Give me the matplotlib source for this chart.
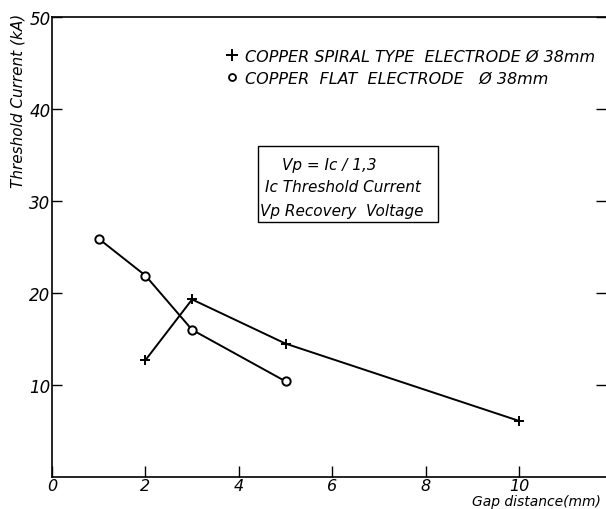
import matplotlib
matplotlib.use('Agg')
import matplotlib.pyplot as plt
from matplotlib.lines import Line2D
from matplotlib.patches import Rectangle

# data
spiral_gap = [2, 3, 5, 10]
spiral_ic = [12.7, 19.3, 14.5, 6.1]
flat_gap = [1, 2, 3, 5]
flat_ic = [25.9, 21.9, 16.0, 10.4]

xticks = [0, 2, 4, 6, 8, 10]
yticks = [10, 20, 30, 40, 50]

spiral_label = 'COPPER SPIRAL TYPE  ELECTRODE Ø 38mm'
flat_label = 'COPPER  FLAT  ELECTRODE   Ø 38mm'
box_lines = ['Vp = Ic / 1,3', 'Ic Threshold Current', 'Vp Recovery  Voltage']

plt.rcParams['font.family'] = 'DejaVu Sans'
plt.rcParams['font.style'] = 'italic'

fig = plt.figure(figsize=(6.06, 5.10), dpi=100)
ax = fig.add_axes([52 / 606, 32 / 510, 554 / 606, 460 / 510])

ax.plot(spiral_gap, spiral_ic, color='black', lw=1.4, marker='+', ms=7, mew=1.4)
ax.plot(flat_gap, flat_ic, color='black', lw=1.4, marker='o', ms=6, mew=1.4,
        mfc='white', mec='black')

ax.set_xlim(0, 554 / 46.7)
ax.set_ylim(0, 50)
ax.set_xticks(xticks)
ax.set_yticks(yticks)
ax.set_xticklabels([str(v) for v in xticks], fontsize=11.5)
ax.set_yticklabels([str(v) for v in yticks], fontsize=12)
ax.tick_params(axis='x', direction='in', length=8, width=1, pad=1)
ax.tick_params(axis='y', direction='in', length=7, width=1, pad=1, right=True)
ax.spines['right'].set_visible(False)
for s in ['left', 'bottom', 'top']:
    ax.spines[s].set_linewidth(1.2)

ax.set_ylabel('Threshold Current (kA)', fontsize=11)
ax.yaxis.set_label_coords(-0.048, 0.82)
ax.set_xlabel('Gap distance(mm)', fontsize=10, ha='right')
ax.xaxis.set_label_coords(0.99, -0.036)

handles = [Line2D([], [], color='black', ls='none', marker='+', ms=8, mew=1.4),
           Line2D([], [], color='black', ls='none', marker='o', ms=5, mew=1.3, mfc='white')]
ax.legend(handles, [spiral_label, flat_label], loc='upper left',
          bbox_to_anchor=(0.305, 0.945), frameon=False, fontsize=11.5,
          handlelength=0.6, handletextpad=0.5, labelspacing=0.45, borderaxespad=0)

ax.add_patch(Rectangle((4.41, 27.7), 3.86, 8.3, fill=False, ec='black', lw=1.0))
ax.text(4.93, 34.0, box_lines[0], fontsize=11, va='center')
ax.text(4.56, 31.6, box_lines[1], fontsize=11, va='center')
ax.text(4.45, 29.0, box_lines[2], fontsize=11, va='center')

fig.savefig('out.png', dpi=100)
